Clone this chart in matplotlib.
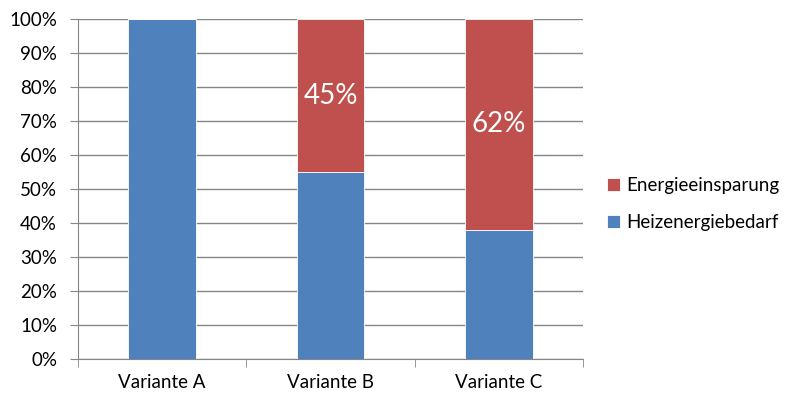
import numpy as np
import matplotlib.pyplot as plt

plt.rcParams['font.family'] = ['Lato', 'DejaVu Sans']

varianten = ["Variante A", "Variante B", "Variante C"]
heizenergiebedarf = [100, 55, 38]
energieeinsparung = [0, 45, 62]

blau = "#4F81BD"
rot = "#C0504D"
grau = "#868686"

fig = plt.figure(figsize=(7.9, 4.0), dpi=100)
ax = fig.add_axes([0.0987, 0.1025, 0.6393, 0.85])

x = np.arange(len(varianten))
breite = 0.4
ax.bar(x, heizenergiebedarf, breite, color=blau, label="Heizenergiebedarf",
       edgecolor="white", linewidth=0.6, zorder=3)
ax.bar(x, energieeinsparung, breite, bottom=heizenergiebedarf, color=rot,
       label="Energieeinsparung", edgecolor="white", linewidth=0.6, zorder=3)

# Prozentwerte in die roten Segmente schreiben
for xi, unten, wert in zip(x, heizenergiebedarf, energieeinsparung):
    if wert > 0:
        ax.text(xi, unten + wert / 2, f"{wert}%", color="white", fontsize=20,
                ha="center", va="center", zorder=4)

ax.set_xlim(-0.5, len(varianten) - 0.5)
ax.set_ylim(0, 100)
ax.set_yticks(np.arange(0, 101, 10))
ax.set_yticklabels([f"{v}%" for v in range(0, 101, 10)])
ax.set_xticks(x)
ax.set_xticklabels(varianten)
ax.set_xticks(np.arange(-0.5, len(varianten), 1), minor=True)

ax.yaxis.grid(True, color=grau, linewidth=1, zorder=0)
for s in ["top", "right"]:
    ax.spines[s].set_visible(False)
for s in ["left", "bottom"]:
    ax.spines[s].set_color(grau)
ax.tick_params(axis="y", length=6, color=grau, labelsize=13.5, pad=9)
ax.tick_params(axis="x", which="major", length=0, labelsize=13.5, pad=11)
ax.tick_params(axis="x", which="minor", length=6, color=grau)

handles, labels = ax.get_legend_handles_labels()
fig.legend(handles[::-1], labels[::-1], loc="center left",
           bbox_to_anchor=(0.747, 0.49), frameon=False, fontsize=13.5,
           handlelength=0.7, handleheight=0.7, handletextpad=0.35,
           labelspacing=1.05)

fig.savefig("out.png", dpi=100)
